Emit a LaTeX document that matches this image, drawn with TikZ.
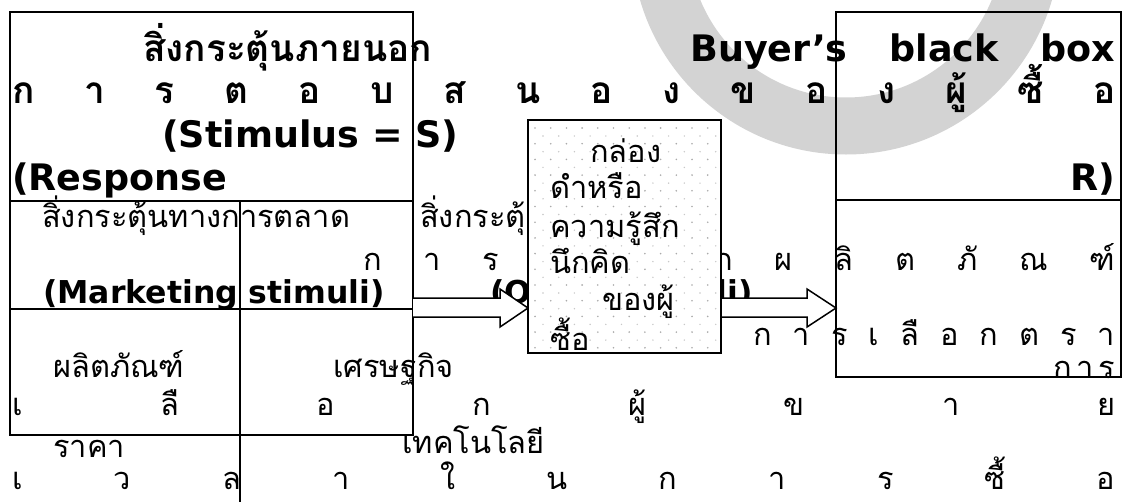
\documentclass[tikz,border=0pt]{standalone}
\usepackage{fontspec}
\setmainfont{DejaVu Sans}
\newfontfamily\thai[Script=Thai]{Loma}
\newcommand\spreadtxt[2]{\makebox[#1][s]{#2}}
\definecolor{arcgrey}{RGB}{211,211,211}
\definecolor{dotgrey}{RGB}{170,170,170}
\definecolor{dotgreyb}{RGB}{200,200,200}
\tikzset{
  reg/.style={inner sep=0pt, anchor=base west, font=\thai\fontsize{30.8}{34}\selectfont},
  bthai/.style={inner sep=0pt, anchor=base west, font=\thai\bfseries\fontsize{37}{40}\selectfont},
  blat/.style={inner sep=0pt, anchor=base west, font=\bfseries\fontsize{31.5}{36}\selectfont},
  hlat/.style={inner sep=0pt, anchor=base west, font=\bfseries\fontsize{36.5}{40}\selectfont},
  boxline/.style={line width=1.5pt, line cap=rect},
  blockarrow/.style={draw, line width=1.5pt, fill=white, line join=miter},
}
\begin{document}
\begin{tikzpicture}[x=1pt,y=-1pt]
\useasboundingbox (0,0) rectangle (1130,501);
% watermark arc
\begin{scope}
\clip (0,0) rectangle (1130,501);
\draw[arcgrey, line width=57pt] (846,-60) circle[radius=186];
\end{scope}
% ---- overflowing texts ----
\node[bthai] (t1) at (143,61) {สิ่งกระตุ้นภายนอก};
\node[hlat] (t2) at (690,61) {\spreadtxt{425pt}{Buyer’s black box}};
\node[bthai] (t3) at (12,103) {\spreadtxt{1103pt}{ก\hfill า\hfill ร\hfill ต\hfill อ\hfill บ\hfill ส\hfill น\hfill อ\hfill ง\hfill ข\hfill อ\hfill ง\hfill ผู้\hfill ซื้\hfill อ}};
\node[hlat] (t4) at (162,147) {(Stimulus = S)};
\node[hlat] (t5) at (12,190) {(Response};
\node[hlat, anchor=base east] (t6) at (1115,190) {R)};
\node[reg] (r1) at (42,227) {สิ่งกระตุ้นทางการตลาด};
\node[reg] (r2) at (420,227) {สิ่งกระตุ้};
\node[reg] (r3) at (363,270) {\spreadtxt{752pt}{ก\hfill า\hfill ร\hfill เ\hfill ลื\hfill อ\hfill ก\hfill ผ\hfill ลิ\hfill ต\hfill ภั\hfill ณ\hfill ฑ์}};
\node[blat] (m1) at (43,303) {(Marketing stimuli)};
\node[blat] (m2) at (490,303) {(Other stimuli)};
\node[reg] (r10) at (753,345) {\spreadtxt{362pt}{ก\hfill า\hfill ร\hfill เ\hfill ลื\hfill อ\hfill ก\hfill ต\hfill ร\hfill า}};
\node[reg] (r11) at (1053,378) {\spreadtxt{62pt}{ก\hfill า\hfill ร}};
\node[reg] (r4) at (53,377) {ผลิตภัณฑ์};
\node[reg] (r5) at (333,377) {เศรษฐกิจ};
\node[reg] (r6) at (12,415) {\spreadtxt{1103pt}{เ\hfill ลื\hfill อ\hfill ก\hfill ผู้\hfill ข\hfill า\hfill ย}};
\node[reg] (r7) at (53,457) {ราคา};
\node[reg] (r8) at (402,453) {เทคโนโลยี};
\node[reg, text depth=0pt] (r9) at (12,489) {\spreadtxt{1103pt}{เ\hfill ว\hfill ล\hfill า\hfill ใ\hfill น\hfill ก\hfill า\hfill ร\hfill ซื้\hfill อ}};
% ---- left table ----
\coordinate (LT) at (10,12);
\coordinate (LB) at (413,435);
\draw[boxline] (LT) rectangle (LB);
\draw[boxline] (10,201) -- (413,201);
\draw[boxline] (10,309) -- (413,309);
\draw[boxline] (240,201) -- (240,501);
% ---- right box ----
\draw[boxline] (836,12) rectangle (1121,377);
\draw[boxline] (836,200) -- (1121,200);
% ---- block arrows ----
\draw[blockarrow] (413,298) -- (500,298) -- (500,289) -- (528,308) -- (500,327) -- (500,317) -- (413,317);
\draw[blockarrow] (721,298) -- (807,298) -- (807,289) -- (836,308) -- (807,327) -- (807,317) -- (721,317);
% ---- middle dotted box ----
\fill[white] (528,120) rectangle (721,353);
\begin{scope}
\clip (529,121) rectangle (720,352);
\foreach \i in {0,...,12}{
  \foreach \j in {0,...,15}{
    \fill[dotgrey] ({535+\i*15.7},{128+\j*15.7}) circle (0.9);
    \fill[dotgreyb] ({543+\i*15.7},{136+\j*15.7}) circle (0.8);
  }
}
\node[reg] (b1) at (590,162) {กล่อง};
\node[reg] (b2) at (550,198) {ดำหรือ};
\node[reg] (b3) at (550,237) {ความรู้สึก};
\node[reg] (b4) at (550,273) {นึกคิด};
\node[reg] (b5) at (602,310) {ของผู้};
\node[reg] (b6) at (550,350) {ซื้อ};
\end{scope}
\draw[boxline] (528,120) rectangle (721,353);
\end{tikzpicture}
\end{document}
